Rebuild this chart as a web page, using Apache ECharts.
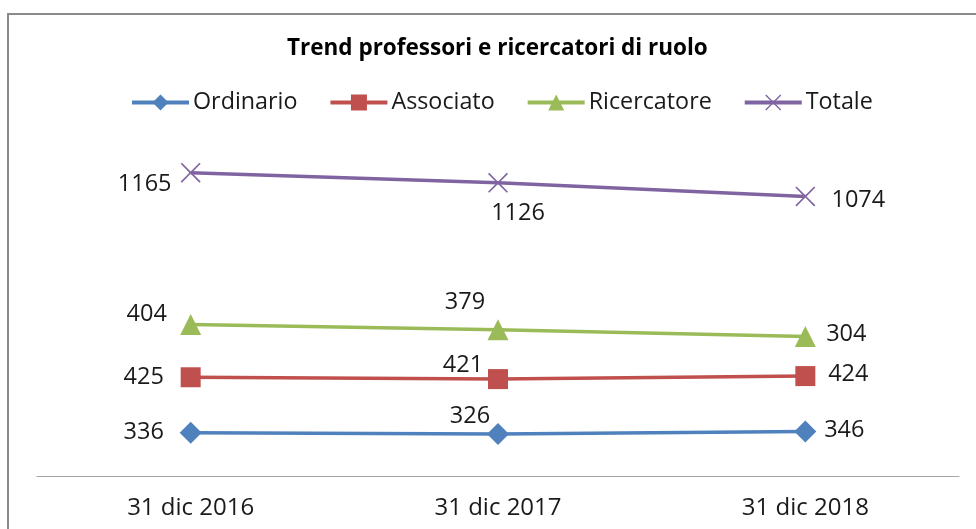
<!DOCTYPE html>
<html>
<head>
<meta charset="utf-8">
<script src="https://cdn.jsdelivr.net/npm/echarts@6/dist/echarts.min.js"></script>
<style>
  html, body { margin: 0; padding: 0; background: #fff; }
  #chart { width: 976px; height: 529px; }
</style>
</head>
<body>
<div id="chart"></div>
<script>
var categories = ['31 dic 2016', '31 dic 2017', '31 dic 2018']
var ordinario = [336, 326, 346]
var associato = [425, 421, 424]
var ricercatore = [404, 379, 304]
var totale = [1165, 1126, 1074]

// label offsets from each point (Excel custom placement)
var offOrd = [[-47, 0], [-28, -18], [39, -1]]
var offAss = [[-47, 0], [-35, -14], [43, -2]]
var offRic = [[-44, -10], [-33, -27], [41, -2]]
var offTot = [[-46, 12], [20, 30], [53, 4]]

var fontFam = '"Open Sans", sans-serif'
var xPath = 'path://M0,6L6,0L50,44L94,0L100,6L56,50L100,94L94,100L50,56L6,100L0,94L44,50Z'

function withLabels(vals, offs) {
  return vals.map(function (v, i) {
    return { value: v, label: { offset: offs[i] } }
  })
}

function mkSeries(name, vals, offs, color, symbol, size) {
  return {
    name: name,
    type: 'line',
    stack: 'all',
    data: withLabels(vals, offs),
    symbol: symbol,
    symbolSize: size,
    showAllSymbol: true,
    lineStyle: { color: color, width: 3.5 },
    itemStyle: { color: color },
    label: {
      show: true,
      position: 'inside',
      align: 'center',
      verticalAlign: 'middle',
      color: '#1a1a1a',
      fontFamily: fontFam,
      fontSize: 23.5
    },
    emphasis: { disabled: true }
  }
}

var chart = echarts.init(document.getElementById('chart'))
var option = {
  backgroundColor: '#fff',
  animation: false,
  title: {
    text: 'Trend professori e ricercatori di ruolo',
    left: 282,
    top: 32,
    textStyle: { fontFamily: fontFam, fontSize: 22.5, fontWeight: 'bold', color: '#000' }
  },
  legend: {
    top: 86,
    left: 125,
    itemWidth: 57,
    itemHeight: 20,
    itemGap: 31,
    lineStyle: { width: 4 },
    textStyle: { fontFamily: fontFam, fontSize: 23.3, color: '#1a1a1a', padding: [0, 0, 0, -1] },
    data: ['Ordinario', 'Associato', 'Ricercatore', 'Totale']
  },
  graphic: [{
    type: 'rect',
    shape: { x: 8, y: 14, width: 1000, height: 600 },
    style: { fill: 'none', stroke: '#8a8a8a', lineWidth: 2 },
    silent: true
  }],
  grid: { left: 37, right: 17, top: 150.5, bottom: 52.5 },
  xAxis: {
    type: 'category',
    data: categories,
    axisTick: { show: false },
    axisLine: { lineStyle: { color: '#a6a6a6', width: 1 } },
    axisLabel: { fontFamily: fontFam, fontSize: 24, color: '#1a1a1a', margin: 20 }
  },
  yAxis: {
    type: 'value',
    min: 0,
    max: 2500,
    show: false,
    splitLine: { show: false }
  },
  series: [
    mkSeries('Ordinario', ordinario, offOrd, '#4F81BD', 'diamond', 22),
    mkSeries('Associato', associato, offAss, '#C0504D', 'rect', 20),
    mkSeries('Ricercatore', ricercatore, offRic, '#9BBB59', 'triangle', 21),
    mkSeries('Totale', totale, offTot, '#8064A2', xPath, 20)
  ]
}
chart.setOption(option)
</script>
</body>
</html>
